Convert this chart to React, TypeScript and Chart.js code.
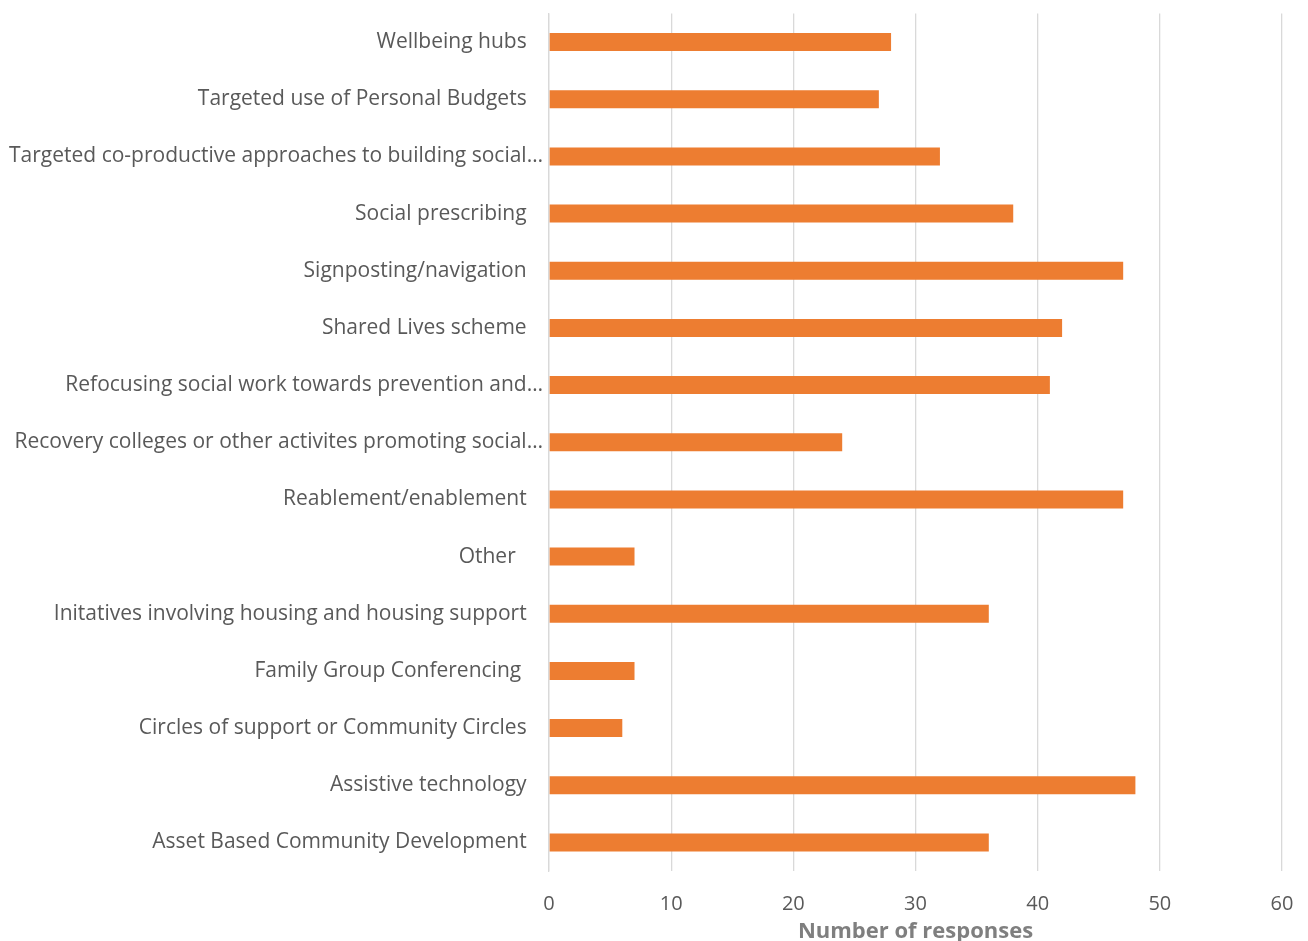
import React, { useEffect, useRef } from "react";
import { Chart, registerables } from "chart.js";

Chart.register(...registerables);

const categories: string[] = [
  "Wellbeing hubs",
  "Targeted use of Personal Budgets",
  "Targeted co-productive approaches to building social…",
  "Social prescribing",
  "Signposting/navigation",
  "Shared Lives scheme",
  "Refocusing social work towards prevention and…",
  "Recovery colleges or other activites promoting social…",
  "Reablement/enablement",
  "Other  ",
  "Initatives involving housing and housing support",
  "Family Group Conferencing ",
  "Circles of support or Community Circles",
  "Assistive technology",
  "Asset Based Community Development",
];

const responses: number[] = [28, 27, 32, 38, 47, 42, 41, 24, 47, 7, 36, 7, 6, 48, 36];

const xTicks: number[] = [0, 10, 20, 30, 40, 50, 60];
const axisTitle = "Number of responses";

const CANVAS_W = 1308;
const CANVAS_H = 949;

export default function App() {
  const ref = useRef<HTMLCanvasElement | null>(null);

  useEffect(() => {
    document.body.style.margin = "0";
    const canvas = ref.current;
    if (!canvas) return;
    const chart = new Chart(canvas, {
      type: "bar",
      data: {
        labels: categories,
        datasets: [
          {
            label: axisTitle,
            data: responses,
            backgroundColor: "#ED7D31",
            borderWidth: 0,
            categoryPercentage: 1,
            barPercentage: 0.315,
          },
        ],
      },
      options: {
        indexAxis: "y",
        responsive: false,
        animation: false,
        layout: { padding: { top: 13.5, right: 26, bottom: 0, left: 0 } },
        plugins: {
          legend: { display: false },
          tooltip: { enabled: false },
          title: { display: false },
        },
        scales: {
          x: {
            min: xTicks[0],
            max: xTicks[xTicks.length - 1],
            afterBuildTicks: (scale: any) => {
              scale.ticks = xTicks.map((v) => ({ value: v }));
            },
            afterFit: (scale: any) => {
              scale.height = CANVAS_H - 871;
              scale.paddingRight = 0;
              scale.paddingLeft = 0;
            },
            grid: {
              color: "#d9d9d9",
              lineWidth: 1.3,
              drawTicks: false,
            },
            border: { display: false },
            ticks: {
              padding: 21,
              color: "#595959",
              font: { family: "'Open Sans', sans-serif", size: 20 },
            },
            title: {
              display: true,
              text: axisTitle,
              color: "#7f7f7f",
              font: { family: "'Open Sans', sans-serif", size: 22, weight: "bold" },
              padding: { top: 4, bottom: 4 },
            },
          },
          y: {
            afterFit: (scale: any) => {
              scale.width = 549;
              scale.paddingTop = 0;
              scale.paddingBottom = 0;
            },
            grid: { display: false, drawTicks: false },
            border: { display: true, color: "#d9d9d9", width: 1.3 },
            ticks: {
              padding: 6,
              color: "#595959",
              autoSkip: false,
              font: { family: "'Open Sans', sans-serif", size: 21 },
              callback: function (this: any, value: any) {
                const lbl = String(this.getLabelForValue(value));
                return lbl.endsWith("…") ? lbl : lbl + "   ";
              },
            },
          },
        },
      },
    });
    return () => chart.destroy();
  }, []);

  return (
    <div style={{ position: "absolute", left: 0, top: 0, width: 1308, height: 941, overflow: "hidden", background: "#fff" }}>
      <canvas ref={ref} width={CANVAS_W} height={CANVAS_H} style={{ display: "block" }} />
    </div>
  );
}
